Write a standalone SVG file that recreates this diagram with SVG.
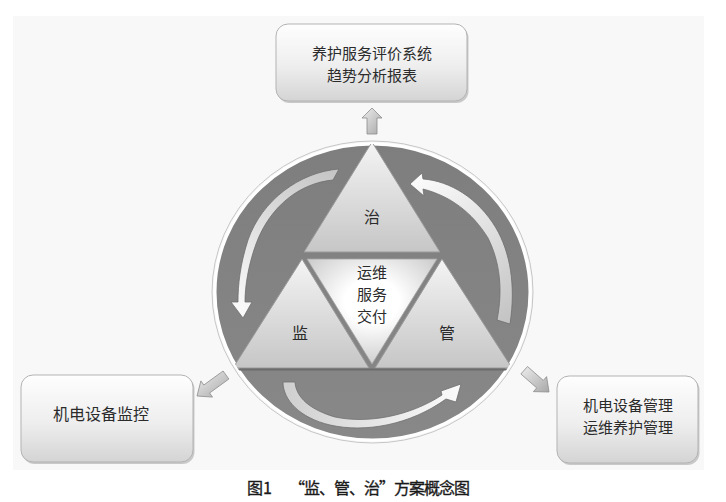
<svg xmlns="http://www.w3.org/2000/svg" width="726" height="502" viewBox="0 0 726 502">
  <defs>
    <style>
      .lbl { font-family: "Noto Sans CJK SC", "Noto Sans", sans-serif; font-size: 16px; fill: #2b2b2b; text-anchor: middle; }
      .ml { font-size: 15px; }
      .tri { fill: url(#triGrad); stroke: #9a9a9a; stroke-width: 1; }
      .box { fill: url(#boxGrad); stroke: #b3b3b3; stroke-width: 1; }
      .shadow { fill: #c9c9c9; }
      .blk { fill: url(#blkGrad); stroke: #8c8c8c; stroke-width: 0.8; stroke-linejoin: round; }
      .crv { stroke: #6f6f6f; stroke-width: 0.8; stroke-linejoin: round; }
      .cap { font-family: "Noto Sans CJK SC", "Noto Sans", sans-serif; font-size: 16px; fill: #1a1a1a; stroke: #1a1a1a; stroke-width: 0.35; }
    </style>
    <linearGradient id="boxGrad" x1="0" y1="0" x2="0" y2="1">
      <stop offset="0" stop-color="#fefefe"/>
      <stop offset="0.55" stop-color="#eeeeee"/>
      <stop offset="1" stop-color="#d4d4d4"/>
    </linearGradient>
    <linearGradient id="triGrad" x1="0" y1="0" x2="0" y2="1">
      <stop offset="0" stop-color="#f4f4f4"/>
      <stop offset="1" stop-color="#c6c6c6"/>
    </linearGradient>
    <radialGradient id="centerGrad" cx="0.5" cy="0.4" r="0.6">
      <stop offset="0.35" stop-color="#ffffff"/>
      <stop offset="1" stop-color="#cfcfcf"/>
    </radialGradient>
    <linearGradient id="circGrad" x1="0" y1="0" x2="0" y2="1">
      <stop offset="0" stop-color="#7e7e7e"/>
      <stop offset="1" stop-color="#888888"/>
    </linearGradient>
    <linearGradient id="blkGrad" x1="0" y1="0" x2="1" y2="1">
      <stop offset="0" stop-color="#eeeeee"/>
      <stop offset="1" stop-color="#a8a8a8"/>
    </linearGradient>
    <linearGradient id="gL" gradientUnits="userSpaceOnUse" x1="338" y1="170" x2="243" y2="318">
      <stop offset="0" stop-color="#c4c4c4"/>
      <stop offset="1" stop-color="#fbfbfb"/>
    </linearGradient>
    <linearGradient id="gR" gradientUnits="userSpaceOnUse" x1="505" y1="322" x2="411" y2="183">
      <stop offset="0" stop-color="#c4c4c4"/>
      <stop offset="1" stop-color="#fbfbfb"/>
    </linearGradient>
    <linearGradient id="gB" gradientUnits="userSpaceOnUse" x1="289" y1="382" x2="460" y2="385">
      <stop offset="0" stop-color="#d0d0d0"/>
      <stop offset="1" stop-color="#fbfbfb"/>
    </linearGradient>
    <clipPath id="circClip">
      <ellipse cx="372.5" cy="292" rx="157.5" ry="148"/>
    </clipPath>
  </defs>

  <rect x="0" y="0" width="726" height="502" fill="#ffffff"/>
  <rect x="13" y="16" width="691" height="454" fill="#f8f8f8"/>

  <g id="circle-bg">
    <ellipse cx="372.5" cy="292" rx="160.5" ry="151" fill="none" stroke="#c6c6c6" stroke-width="1"/>
    <ellipse cx="372.5" cy="292" rx="157.5" ry="148" fill="url(#circGrad)" stroke="#ffffff" stroke-width="3"/>
  </g>

  <g clip-path="url(#circClip)">
    <g id="node-zhi">
      <polygon class="tri" points="372,142 304,252 440,252"/>
      <text class="lbl" x="372" y="223">治</text>
    </g>
    <g id="node-jian">
      <polygon class="tri" points="302,259 233,368 369,368"/>
      <text class="lbl" x="300" y="339">监</text>
    </g>
    <g id="node-guan">
      <polygon class="tri" points="442,259 375,368 512,368"/>
      <text class="lbl" x="447" y="339">管</text>
    </g>
    <g id="node-center">
      <polygon points="307,259 437,259 372,364" fill="url(#centerGrad)" stroke="#a5a5a5" stroke-width="0.8"/>
      <text class="lbl ml" x="372" y="278">运维</text>
      <text class="lbl ml" x="372" y="300">服务</text>
      <text class="lbl ml" x="372" y="322">交付</text>
    </g>
    <line x1="210" y1="369.5" x2="535" y2="369.5" stroke="#6c6c6c" stroke-width="2"/>
  </g>

  <g id="node-top">
    <rect class="shadow" x="277.5" y="26" width="191" height="77" rx="12"/>
    <rect class="box" x="276" y="24" width="191" height="77" rx="12"/>
    <text class="lbl ml" x="372" y="59">养护服务评价系统</text>
    <text class="lbl ml" x="372" y="81">趋势分析报表</text>
  </g>

  <g id="node-left">
    <rect class="shadow" x="22.5" y="377" width="172" height="87" rx="12"/>
    <rect class="box" x="21" y="375" width="172" height="87" rx="12"/>
    <text class="lbl" x="101" y="420">机电设备监控</text>
  </g>

  <g id="node-right">
    <rect class="shadow" x="558.5" y="378" width="141" height="87" rx="12"/>
    <rect class="box" x="557" y="376" width="141" height="87" rx="12"/>
    <text class="lbl ml" x="628" y="411">机电设备管理</text>
    <text class="lbl ml" x="628" y="433">运维养护管理</text>
  </g>

  <g id="connectors">
    <path class="blk" d="M372,108 L382,118 L377,118 L377,134 L367,134 L367,118 L362,118 Z"/>
    <path class="blk" d="M197,396 L200.9,380.9 L203.8,385 L223.1,371 L228.9,379 L209.6,393 L212.5,397.1 Z"/>
    <path class="blk" d="M549,392 L546.6,376.6 L543.3,380.4 L527.5,366.5 L520.9,374 L536.7,387.9 L533.4,391.6 Z"/>

    <path class="crv" fill="url(#gL)" d="M339,169 C300,172 262,200 248,240 C240,265 238,285 238,302 L231,302 L243,318 L252,302 L245,302 C245,287 248,266 256,244 C270,206 300,183 333,180 Z"/>
    <path class="crv" fill="url(#gR)" d="M410,184 L422,173 L423,179 C450,181 478,198 496,228 C510,252 516,285 510,324 L497,320 C503,290 500,262 488,238 C472,212 450,196 423,189 L424,196 Z"/>
    <path class="crv" fill="url(#gB)" d="M283,382 L295,382 C296,398 311,410 335,417 C368,424 410,416 442,395 L441,391 L461,384 L456,402 L446,399 C410,425 365,433 330,425 C300,418 283,400 283,382 Z"/>
  </g>

  <g id="caption">
    <text class="cap" x="247" y="494">图1</text>
    <text class="cap" x="289" y="494" textLength="181" lengthAdjust="spacing">“监、管、治”方案概念图</text>
  </g>
</svg>
